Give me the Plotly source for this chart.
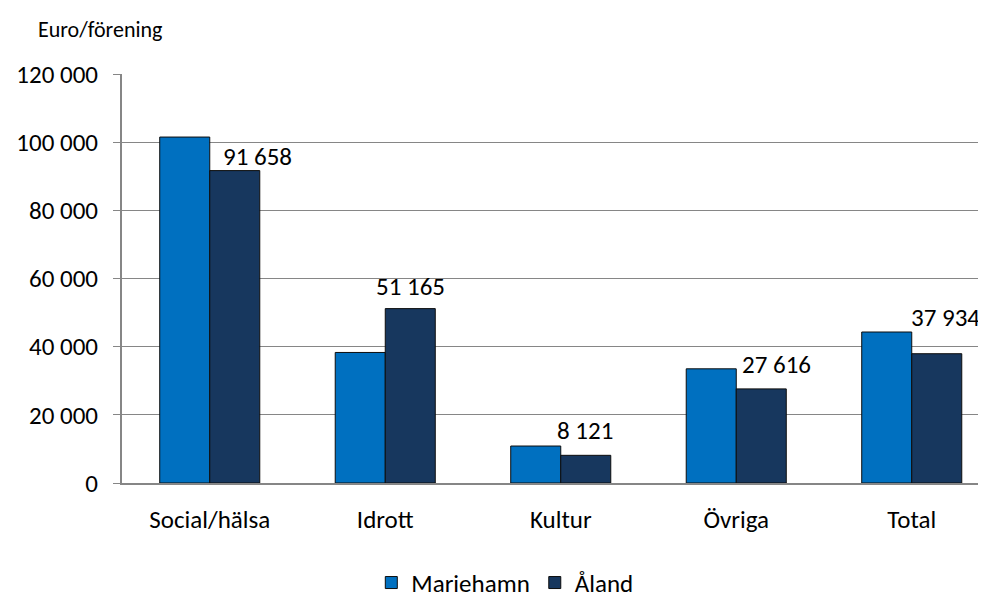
import plotly.graph_objects as go

categories = ["Social/hälsa", "Idrott", "Kultur", "Övriga", "Total"]
mariehamn = [101500, 38300, 10850, 33500, 44300]
aland = [91658, 51165, 8121, 27616, 37934]
y_ticks = [0, 20000, 40000, 60000, 80000, 100000, 120000]
y_tick_labels = ["0", "20 000", "40 000", "60 000", "80 000", "100 000", "120 000"]

# label placement styling (pixel offsets from the Åland bar top centre)
label_dx = [23, 0, -1, 15, 9]
label_dy = [14, 22, 25, 24, 36]

font_family = "Carlito, Calibri, Lato, sans-serif"
FS = 25

def fmt(v):
    return f"{v:,}".replace(",", " ")

fig = go.Figure()
fig.add_trace(go.Bar(
    name="Mariehamn", x=categories, y=mariehamn,
    marker=dict(color="#0070C0", line=dict(color="#0d0d0d", width=1)),
))
fig.add_trace(go.Bar(
    name="Åland", x=categories, y=aland,
    marker=dict(color="#17375E", line=dict(color="#0d0d0d", width=1)),
))

cat_px = 175.5
plot_w = 986 - 114 - 0
bar_half_group = 0.57 / 4  # centre of second bar in category units

annotations = [dict(text="Euro/förening", xref="paper", yref="paper", x=-86 / plot_w, y=1.1076,
                    xanchor="left", yanchor="middle", showarrow=False,
                    font=dict(size=22, color="#000000"))]
for i, (c, v) in enumerate(zip(categories, aland)):
    annotations.append(dict(
        x=c, y=v, xref="x", yref="y", text=fmt(v), showarrow=False,
        xanchor="center", yanchor="middle",
        xshift=bar_half_group * cat_px + label_dx[i], yshift=label_dy[i],
        font=dict(size=FS, color="#000000"),
    ))

fig.update_layout(
    width=986, height=599,
    barmode="group", bargap=0.43, bargroupgap=0,
    plot_bgcolor="white", paper_bgcolor="white",
    margin=dict(l=114, r=0, t=66, b=124, autoexpand=False),
    font=dict(family=font_family, size=FS, color="#000000"),
    showlegend=True,
    legend=dict(orientation="h", x=0.439, xanchor="center", y=-0.244, yanchor="middle",
                font=dict(size=FS), itemwidth=30, traceorder="normal"),
    annotations=annotations,
)
fig.update_xaxes(range=[-0.5, -0.5 + plot_w / cat_px],
                 showline=True, linecolor="#868686", linewidth=2, ticks="",
                 tickfont=dict(size=FS), showgrid=False, ticklabelstandoff=13)
fig.update_yaxes(range=[0, 120000], tickvals=y_ticks, ticktext=y_tick_labels,
                 showgrid=True, gridcolor="#868686", gridwidth=1,
                 showline=True, linecolor="#868686", linewidth=2,
                 ticks="outside", ticklen=7, tickcolor="#868686",
                 tickfont=dict(size=FS), zeroline=False, ticklabelstandoff=10)

fig.write_html("out.html")
